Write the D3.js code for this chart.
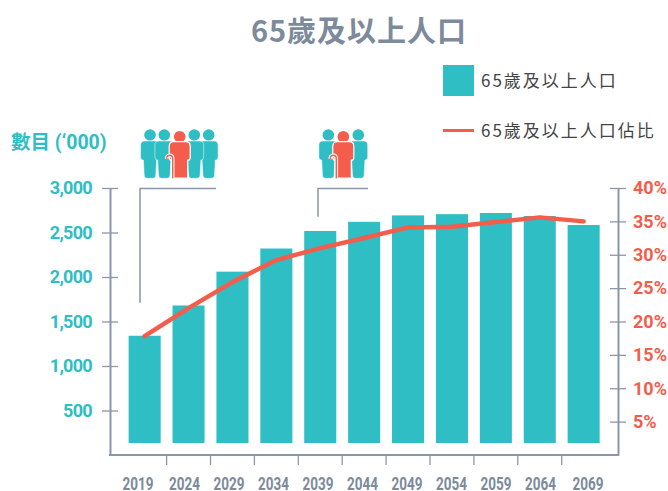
<!DOCTYPE html>
<html lang="zh-Hant">
<head>
  <meta charset="UTF-8" />
  <title>65歲及以上人口</title>
  <script src="https://d3js.org/d3.v7.min.js"></script>
  <style>
    body { margin: 0; background: #fff; }
    svg { display: block; }
    text { font-family: "Noto Sans CJK TC", sans-serif; }
    .num { font-family: Roboto, sans-serif; font-weight: 700; font-size: 18px; }
    .num-left { letter-spacing: -0.7px; }
    .year { font-family: Roboto, sans-serif; font-weight: 700; font-size: 18px; fill: #7c8a9c; }
    .legend-label { font-size: 17px; fill: #444; letter-spacing: 2px; }
  </style>
</head>
<body>
  <svg id="chart" width="668" height="491"></svg>
  <script>
    const years = ["2019", "2024", "2029", "2034", "2039", "2044", "2049", "2054", "2059", "2064", "2069"];
    const population = [1340, 1680, 2060, 2320, 2517, 2620, 2692, 2706, 2719, 2685, 2584];
    const share = [17.8, 22.0, 25.9, 29.2, 31.0, 32.5, 34.1, 34.2, 34.9, 35.6, 35.0];
    const populationTicks = [500, 1000, 1500, 2000, 2500, 3000];
    const shareTicks = [5, 10, 15, 20, 25, 30, 35, 40];

    const teal = "#2ebec3", red = "#f45d4c", grey = "#8a97ab";
    const svg = d3.select("#chart");

    const x = d3.scaleBand().domain(years).range([122.7, 605.6]).paddingInner(0.27).paddingOuter(0.135);
    const yLeft = d3.scaleLinear().domain([0, 3000]).range([455, 188]);
    const yRight = d3.scaleLinear().domain([0, 40]).range([455, 188]);
    // the year labels drift a little from the bars in the original
    const xLabel = d3.scalePoint().domain(years).range([140, 585]);

    // bars stop short of the axis
    const barFloor = 443;
    svg.append("g").selectAll("rect")
      .data(population)
      .join("rect")
      .attr("x", (d, i) => x(years[i]))
      .attr("y", d => yLeft(d))
      .attr("width", x.bandwidth())
      .attr("height", d => barFloor - yLeft(d))
      .attr("fill", teal);

    // left axis
    const leftAxis = svg.append("g")
      .attr("transform", "translate(110,0)")
      .call(d3.axisLeft(yLeft).tickValues(populationTicks).tickSizeOuter(0).tickSizeInner(0).tickPadding(18).tickFormat(d3.format(",")));
    styleAxis(leftAxis, teal, -8, 8);
    leftAxis.selectAll(".tick text").classed("num-left", true);

    // right axis
    const rightAxis = svg.append("g")
      .attr("transform", "translate(618,0)")
      .call(d3.axisRight(yRight).tickValues(shareTicks).tickSizeOuter(0).tickSizeInner(0).tickPadding(15).tickFormat(d => d + "%"));
    styleAxis(rightAxis, red, -8, 8);

    function styleAxis(g, color, x1, x2) {
      g.select(".domain").attr("stroke", grey).attr("stroke-width", 2);
      g.selectAll(".tick line").attr("x1", x1).attr("x2", x2).attr("stroke", grey).attr("stroke-width", 1.3);
      g.selectAll(".tick text").attr("class", "num").attr("fill", color);
    }

    // bottom axis, ticks sit between the bars
    svg.append("line")
      .attr("x1", 109).attr("x2", 619)
      .attr("y1", 455).attr("y2", 455)
      .attr("stroke", grey).attr("stroke-width", 2);

    svg.append("g").selectAll("line")
      .data(years.slice(1))
      .join("line")
      .attr("x1", d => x(d) - x.step() * 0.135)
      .attr("x2", d => x(d) - x.step() * 0.135)
      .attr("y1", 455).attr("y2", 465)
      .attr("stroke", grey).attr("stroke-width", 1.3);

    svg.append("g").selectAll("text")
      .data(years)
      .join("text")
      .attr("class", "year")
      .attr("text-anchor", "middle")
      .attr("x", d => xLabel(d) + (d === "2019" ? -2 : d === "2069" ? 3 : 0))
      .attr("y", 490)
      .attr("textLength", 31)
      .attr("lengthAdjust", "spacingAndGlyphs")
      .text(d => d);

    // share line
    const line = d3.line()
      .x((d, i) => x(years[i]) + x.bandwidth() / 2)
      .y(d => yRight(d));

    svg.append("path")
      .attr("d", line(share))
      .attr("fill", "none")
      .attr("stroke", red)
      .attr("stroke-width", 4.5)
      .attr("stroke-linejoin", "round")
      .attr("stroke-linecap", "round");

    // title
    svg.append("text")
      .attr("x", 359).attr("y", 42)
      .attr("text-anchor", "middle")
      .attr("font-size", 29)
      .attr("font-weight", 700)
      .attr("letter-spacing", 1)
      .attr("fill", "#7c8a9c")
      .text("65歲及以上人口");

    // legend
    svg.append("rect").attr("x", 443).attr("y", 65).attr("width", 31).attr("height", 31).attr("fill", teal);
    svg.append("text").attr("class", "legend-label").attr("x", 481).attr("y", 87).text("65歲及以上人口");
    svg.append("line").attr("x1", 443).attr("x2", 474).attr("y1", 130.5).attr("y2", 130.5).attr("stroke", red).attr("stroke-width", 3);
    svg.append("text").attr("class", "legend-label").attr("x", 481).attr("y", 137).text("65歲及以上人口佔比");

    // left axis title
    svg.append("text")
      .attr("x", 11).attr("y", 149)
      .attr("font-size", 19.5)
      .attr("font-weight", 700)
      .attr("fill", teal)
      .style("font-family", 'Roboto, "Noto Sans CJK TC", sans-serif')
      .text("數目 (‘000)");

    // annotation brackets
    const brackets = ["M140,302.7 V188.5 H216", "M318,216.7 V188.5 H368"];
    svg.append("g").selectAll("path")
      .data(brackets)
      .join("path")
      .attr("d", d => d)
      .attr("fill", "none")
      .attr("stroke", grey)
      .attr("stroke-width", 1.5);

    // people icons
    const bodyPath = "M-5,6 H5 Q9.4,6 9.4,10 V22 Q9.4,25 7,25 H6.6 L5.8,40 Q5.7,43.3 3,43.3 H-3 Q-5.7,43.3 -5.8,40 L-6.6,25 H-7 Q-9.4,25 -9.4,22 V10 Q-9.4,6 -5,6 Z";

    function person(cx, color) {
      const g = svg.append("g").attr("transform", `translate(${cx},135)`);
      g.append("circle").attr("r", 5.8).attr("fill", color);
      g.append("path").attr("d", bodyPath).attr("fill", color).attr("stroke", "#fff").attr("stroke-width", 0.5);
    }

    function elder(cx) {
      const g = svg.append("g").attr("transform", `translate(${cx},136.7)`);
      g.append("circle").attr("r", 5.8).attr("fill", red);
      g.append("path")
        .attr("d", "M-6,5 H6 Q10.5,5 10.5,9.5 V21 Q10.5,23.5 8,23.5 V41.5 H-8 V23.5 Q-10.5,23.5 -10.5,21 V9.5 Q-10.5,5 -6,5 Z")
        .attr("fill", red).attr("stroke", "#fff").attr("stroke-width", 1.2);
      // cane
      const cane = "M-7,41.5 V22 Q-7,18.5 -10,18.5 Q-13,18.5 -13,22";
      g.append("path").attr("d", cane).attr("fill", "none").attr("stroke", "#fff").attr("stroke-width", 3.6);
      g.append("path").attr("d", cane).attr("fill", "none").attr("stroke", red).attr("stroke-width", 1.4);
    }

    [150, 208.7, 164.3, 194.3].forEach(cx => person(cx, teal));
    elder(179.7);
    [328.3, 358.3].forEach(cx => person(cx, teal));
    elder(343.3);
  </script>
</body>
</html>
